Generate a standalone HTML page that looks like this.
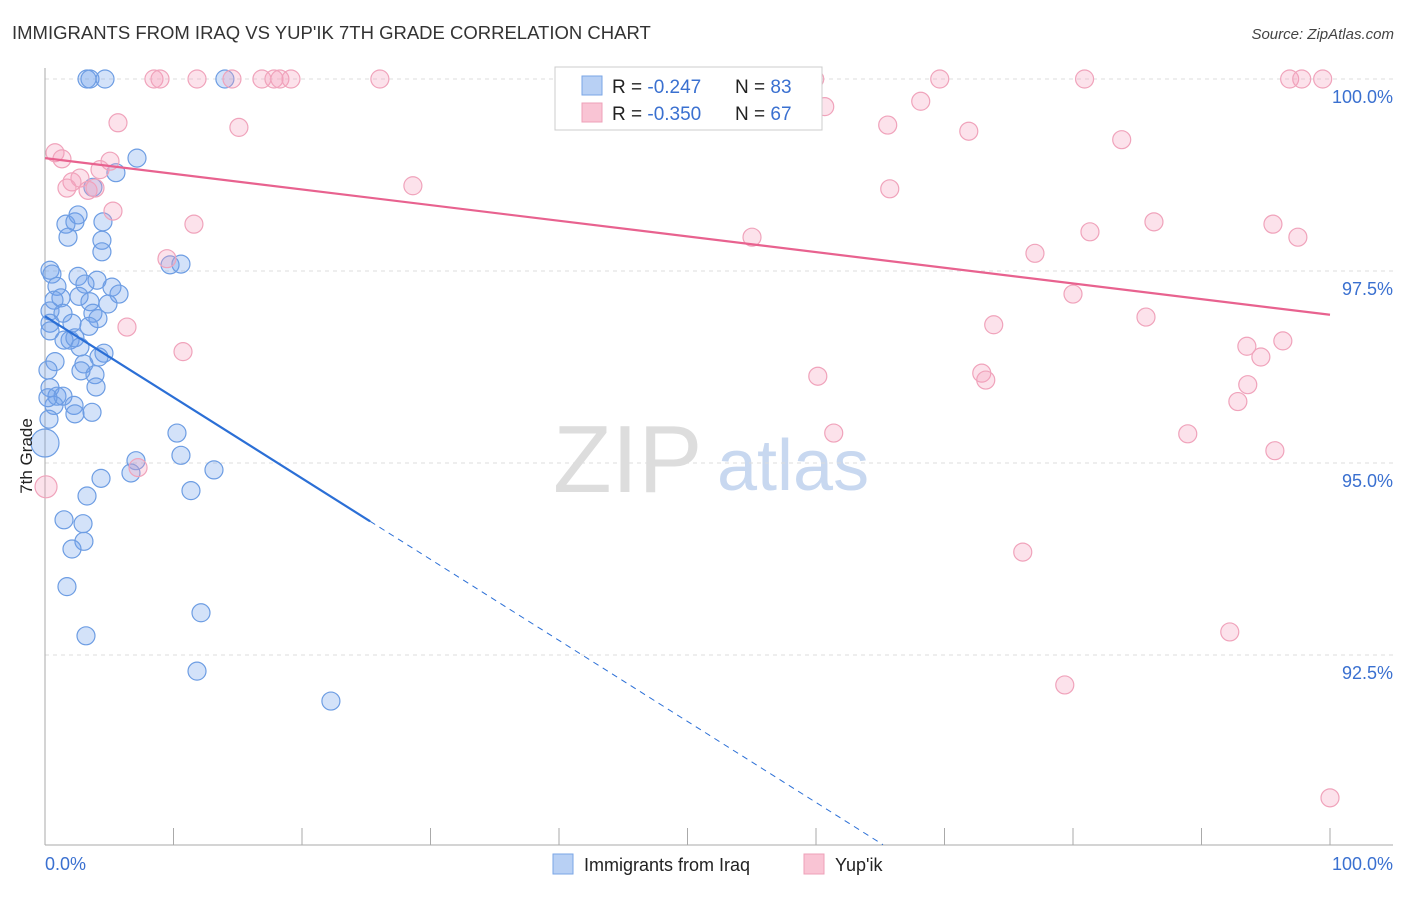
<!DOCTYPE html>
<html><head><meta charset="utf-8"><style>
body{margin:0;background:#fff;font-family:"Liberation Sans",sans-serif;}
svg text{font-family:"Liberation Sans",sans-serif;}
</style></head><body>
<svg id="chart" width="1406" height="892" viewBox="0 0 1406 892" xmlns="http://www.w3.org/2000/svg">
<text x="12" y="39" font-size="18.5" fill="#333">IMMIGRANTS FROM IRAQ VS YUP'IK 7TH GRADE CORRELATION CHART</text>
<text x="1394" y="39" font-size="15" fill="#444" text-anchor="end" font-style="italic">Source: ZipAtlas.com</text>
<g>
<text x="553" y="492" font-size="96" fill="#ddd" font-family="Liberation Serif">ZIP</text>
<text x="717" y="490" font-size="72" fill="#c8d8f0">atlas</text>
</g>
<g id="grid"></g>
<g id="axes"></g>
<g id="marks"></g>
<g id="trends"></g>
<g>
<rect x="555" y="67" width="267" height="63" fill="#fff" stroke="#ccc"/>
<rect x="582" y="76" width="20" height="19" fill="#b8d0f4" stroke="#7aa6e6"/>
<rect x="582" y="103" width="20" height="19" fill="#f9c4d4" stroke="#eea0b8"/>
<text x="612" y="93" font-size="19" fill="#222">R = <tspan fill="#3a70d0">-0.247</tspan><tspan x="735">N = </tspan><tspan fill="#3a70d0">83</tspan></text>
<text x="612" y="120" font-size="19" fill="#222">R = <tspan fill="#3a70d0">-0.350</tspan><tspan x="735">N = </tspan><tspan fill="#3a70d0">67</tspan></text>
</g>
<g>
<rect x="553" y="854" width="20" height="20" fill="#b8d0f4" stroke="#7aa6e6"/>
<text x="584" y="871" font-size="18" fill="#222">Immigrants from Iraq</text>
<rect x="804" y="854" width="20" height="20" fill="#f9c4d4" stroke="#eea0b8"/>
<text x="835" y="871" font-size="18" fill="#222">Yup'ik</text>
</g>
<text x="32" y="456" font-size="17" fill="#222" text-anchor="middle" transform="rotate(-90 32 456)">7th Grade</text>
</svg>
<script>
const yTicks=[100,97.5,95,92.5];
const yTickLabels=["100.0%","97.5%","95.0%","92.5%"];
const blueX=[3.27,3.5,4.67,14.0,7.16,5.52,3.73,1.63,2.33,2.57,1.79,4.51,4.43,4.43,9.73,10.58,0.39,0.54,2.57,4.05,0.93,3.11,5.21,5.76,1.24,0.7,2.65,3.5,4.9,0.39,1.4,3.73,4.12,2.1,0.39,0.39,3.42,1.95,1.48,2.33,2.72,4.59,4.2,3.03,0.78,0.23,2.8,3.89,3.97,0.39,0.93,1.4,0.7,2.26,2.33,3.66,0.31,10.27,10.58,7.08,6.69,4.36,13.15,11.36,3.27,1.48,2.96,3.03,2.1,1.71,12.14,3.19,11.83,22.25,0.23,0];
const blueY=[100,100,100,100,98.97,98.78,98.59,98.11,98.14,98.23,97.94,98.14,97.9,97.75,97.58,97.59,97.51,97.46,97.43,97.38,97.3,97.33,97.29,97.2,97.15,97.12,97.17,97.1,97.07,96.98,96.95,96.95,96.88,96.82,96.82,96.72,96.78,96.6,96.6,96.63,96.51,96.43,96.38,96.29,96.32,96.21,96.2,96.15,95.99,95.98,95.87,95.87,95.75,95.75,95.64,95.66,95.57,95.39,95.1,95.03,94.87,94.8,94.91,94.64,94.57,94.26,94.21,93.98,93.88,93.39,93.05,92.75,92.29,91.9,95.85,95.26];
const pinkX=[8.48,8.95,11.83,14.55,16.88,17.82,18.28,19.14,26.06,41.62,50.18,59.9,69.63,80.9,96.86,97.8,99.43,60.68,68.15,5.68,15.09,65.58,71.89,83.79,0.78,1.32,5.06,4.28,2.72,2.1,1.71,3.35,3.89,28.63,65.74,5.29,11.59,86.3,95.56,81.32,97.5,55.02,77.04,9.49,80.0,85.68,6.38,73.83,96.33,93.53,94.62,10.74,60.14,72.9,73.21,93.6,92.83,61.38,88.93,95.71,7.24,0.08,76.09,92.2,79.36,100];
const pinkY=[100,100,100,100,100,100,100,100,100,100,100,100,100,100,100,100,100,99.64,99.71,99.43,99.37,99.4,99.32,99.21,99.04,98.96,98.93,98.82,98.71,98.66,98.58,98.55,98.58,98.61,98.57,98.28,98.11,98.14,98.11,98.01,97.94,97.94,97.73,97.66,97.2,96.9,96.77,96.8,96.59,96.52,96.38,96.45,96.13,96.17,96.08,96.02,95.8,95.39,95.38,95.16,94.94,94.69,93.84,92.8,92.11,90.64];
const blueTrend=[96.91,-0.1055];
const pinkTrend=[98.97,-0.0204];
const NS="http://www.w3.org/2000/svg";
const xs=v=>45+v*12.85, ys=v=>79+(100-v)*76.8;
function mk(tag,attrs,parent){const e=document.createElementNS(NS,tag);for(const k in attrs)e.setAttribute(k,attrs[k]);document.getElementById(parent).appendChild(e);return e;}
yTicks.forEach((t,i)=>{
 const g=mk('line',{x1:45,x2:1393,y1:ys(t),y2:ys(t),stroke:'#ddd','stroke-dasharray':'4,4'},'grid');
 
 
 const l=mk('text',{x:1393,y:ys(t)+24,'font-size':18,fill:'#3a70d0','text-anchor':'end'},'axes');
 l.textContent=yTickLabels[i];
 
 
});
const ax=mk('line',{x1:45,x2:45,y1:68,y2:845,stroke:'#aaa'},'axes');


const bx=mk('line',{x1:45,x2:1393,y1:845,y2:845,stroke:'#aaa'},'axes');


for(let i=1;i<=10;i++){const t=mk('line',{x1:xs(i*10),x2:xs(i*10),y1:828,y2:845,stroke:'#aaa'},'axes');
 
 }
[["0.0%",45,'start'],["100.0%",1393,'end']].forEach(a=>{const t=mk('text',{x:a[1],y:870,'font-size':18,fill:'#3a70d0','text-anchor':a[2]},'axes');t.textContent=a[0];
 
 });
blueX.forEach((x,i)=>{const c=mk('circle',{cx:xs(x),cy:ys(blueY[i]),r:(i==blueX.length-1)?14:9,fill:'rgba(110,160,235,0.3)',stroke:'#6d9de3','stroke-width':1.2},'marks');
 
 });
pinkX.forEach((x,i)=>{const c=mk('circle',{cx:xs(x),cy:ys(pinkY[i]),r:(i==61)?11:9,fill:'rgba(245,160,190,0.3)',stroke:'#f0a3bb','stroke-width':1.2},'marks');
 
 });
const bt=v=>blueTrend[0]+blueTrend[1]*v;
let l1=mk('line',{x1:xs(0),y1:ys(bt(0)),x2:xs(25.3),y2:ys(bt(25.3)),stroke:'#2b6fd6','stroke-width':2.2},'trends');


const xEnd=(blueTrend[0]-90.03)/-blueTrend[1];
let l2=mk('line',{x1:xs(25.3),y1:ys(bt(25.3)),x2:xs(xEnd),y2:ys(bt(xEnd)),stroke:'#2b6fd6','stroke-width':1,'stroke-dasharray':'6,5'},'trends');


const pt=v=>pinkTrend[0]+pinkTrend[1]*v;
let l3=mk('line',{x1:xs(0),y1:ys(pt(0)),x2:xs(100),y2:ys(pt(100)),stroke:'#e8628f','stroke-width':2.2},'trends');


</script>
</body></html>
